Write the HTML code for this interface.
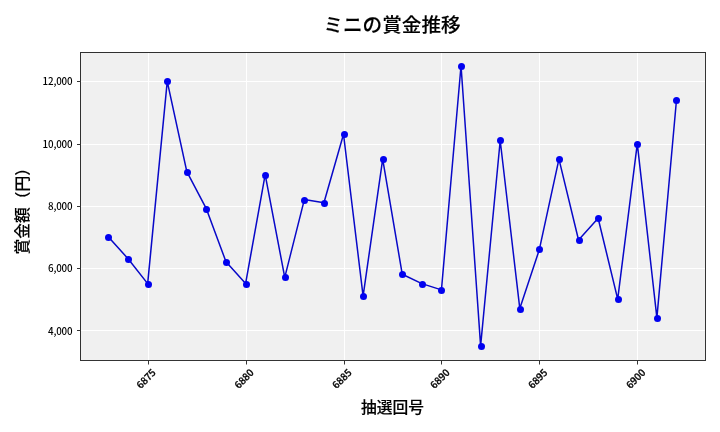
<!DOCTYPE html>
<html lang="ja"><head><meta charset="utf-8"><title>ミニの賞金推移</title>
<style>html,body{margin:0;padding:0;background:#fff;overflow:hidden;}svg{display:block;will-change:transform;}text{font-family:"Noto Sans CJK JP", "Liberation Sans", sans-serif;fill:#000;}</style></head><body>
<svg width="720" height="432" viewBox="0 0 720 432">
<rect x="0" y="0" width="720" height="432" fill="#ffffff"/>
<g opacity="0.999">
<rect x="80" y="52" width="625" height="308" fill="#f0f0f0"/>
<g stroke="#ffffff" stroke-opacity="1" stroke-width="1">
<line x1="148.5" y1="52.5" x2="148.5" y2="360.5"/>
<line x1="246.5" y1="52.5" x2="246.5" y2="360.5"/>
<line x1="344.5" y1="52.5" x2="344.5" y2="360.5"/>
<line x1="441.5" y1="52.5" x2="441.5" y2="360.5"/>
<line x1="539.5" y1="52.5" x2="539.5" y2="360.5"/>
<line x1="637.5" y1="52.5" x2="637.5" y2="360.5"/>
<line x1="80.5" y1="330.5" x2="705.5" y2="330.5"/>
<line x1="80.5" y1="268.5" x2="705.5" y2="268.5"/>
<line x1="80.5" y1="206.5" x2="705.5" y2="206.5"/>
<line x1="80.5" y1="144.5" x2="705.5" y2="144.5"/>
<line x1="80.5" y1="81.5" x2="705.5" y2="81.5"/>
</g>
<g stroke="#000" stroke-opacity="0.8" stroke-width="1">
<line x1="148.5" y1="361.0" x2="148.5" y2="364.5"/>
<line x1="246.5" y1="361.0" x2="246.5" y2="364.5"/>
<line x1="344.5" y1="361.0" x2="344.5" y2="364.5"/>
<line x1="441.5" y1="361.0" x2="441.5" y2="364.5"/>
<line x1="539.5" y1="361.0" x2="539.5" y2="364.5"/>
<line x1="637.5" y1="361.0" x2="637.5" y2="364.5"/>
<line x1="77.0" y1="330.5" x2="80.0" y2="330.5"/>
<line x1="77.0" y1="268.5" x2="80.0" y2="268.5"/>
<line x1="77.0" y1="206.5" x2="80.0" y2="206.5"/>
<line x1="77.0" y1="144.5" x2="80.0" y2="144.5"/>
<line x1="77.0" y1="81.5" x2="80.0" y2="81.5"/>
</g>
<polyline points="108.48,236.94 128.07,258.73 147.66,283.62 167.24,81.34 186.83,171.59 206.41,208.93 226.00,261.84 245.59,283.62 265.17,174.70 284.76,277.40 304.34,199.60 323.93,202.71 343.52,134.24 363.10,296.07 382.69,159.14 402.27,274.29 421.86,283.62 441.44,289.85 461.03,65.77 480.62,345.87 500.20,140.47 519.79,308.52 539.37,249.39 558.96,159.14 578.55,240.05 598.13,218.27 617.72,299.18 637.30,143.58 656.89,317.86 676.48,100.01" fill="none" stroke="#0808c8" stroke-width="1.5" stroke-linejoin="round" stroke-linecap="square"/>
<g fill="#0000f0">
<circle cx="108.5" cy="237.5" r="3.5"/>
<circle cx="128.5" cy="259.5" r="3.5"/>
<circle cx="148.5" cy="284.5" r="3.5"/>
<circle cx="167.5" cy="81.5" r="3.5"/>
<circle cx="187.5" cy="172.5" r="3.5"/>
<circle cx="206.5" cy="209.5" r="3.5"/>
<circle cx="226.5" cy="262.5" r="3.5"/>
<circle cx="246.5" cy="284.5" r="3.5"/>
<circle cx="265.5" cy="175.5" r="3.5"/>
<circle cx="285.5" cy="277.5" r="3.5"/>
<circle cx="304.5" cy="200.5" r="3.5"/>
<circle cx="324.5" cy="203.5" r="3.5"/>
<circle cx="344.5" cy="134.5" r="3.5"/>
<circle cx="363.5" cy="296.5" r="3.5"/>
<circle cx="383.5" cy="159.5" r="3.5"/>
<circle cx="402.5" cy="274.5" r="3.5"/>
<circle cx="422.5" cy="284.5" r="3.5"/>
<circle cx="441.5" cy="290.5" r="3.5"/>
<circle cx="461.5" cy="66.5" r="3.5"/>
<circle cx="481.5" cy="346.5" r="3.5"/>
<circle cx="500.5" cy="140.5" r="3.5"/>
<circle cx="520.5" cy="309.5" r="3.5"/>
<circle cx="539.5" cy="249.5" r="3.5"/>
<circle cx="559.5" cy="159.5" r="3.5"/>
<circle cx="579.5" cy="240.5" r="3.5"/>
<circle cx="598.5" cy="218.5" r="3.5"/>
<circle cx="618.5" cy="299.5" r="3.5"/>
<circle cx="637.5" cy="144.5" r="3.5"/>
<circle cx="657.5" cy="318.5" r="3.5"/>
<circle cx="676.5" cy="100.5" r="3.5"/>
</g>
<rect x="80.5" y="52.5" width="625.0" height="308.0" fill="none" stroke="#000" stroke-opacity="0.8" stroke-width="1"/>
<g font-size="9.8" font-weight="500" text-anchor="end" stroke="#000" stroke-width="0.0">
<text x="72.50" y="335" letter-spacing="-0.15">4,000</text>
<text x="72.50" y="272" letter-spacing="-0.15">6,000</text>
<text x="72.50" y="210" letter-spacing="-0.15">8,000</text>
<text x="72.50" y="148" letter-spacing="-0.15">10,000</text>
<text x="72.50" y="85" letter-spacing="-0.15">12,000</text>
</g>
<g font-size="9.8" font-weight="500" text-anchor="middle" stroke="#000" stroke-width="0.3">
<text transform="translate(148.66,381.27) rotate(-45)">6875</text>
<text transform="translate(246.59,381.27) rotate(-45)">6880</text>
<text transform="translate(344.52,381.27) rotate(-45)">6885</text>
<text transform="translate(442.44,381.27) rotate(-45)">6890</text>
<text transform="translate(540.37,381.27) rotate(-45)">6895</text>
<text transform="translate(638.30,381.27) rotate(-45)">6900</text>
</g>
<text x="392.0" y="32.4" font-size="19.6" font-weight="500" text-anchor="middle" stroke="#000" stroke-width="0.15">ミニの賞金推移</text>
<text x="392.5" y="412.5" font-size="15.75" font-weight="500" text-anchor="middle" stroke="#000" stroke-width="0.15">抽選回号</text>
<text transform="translate(27.5,207.22) rotate(-90)" font-size="15.75" font-weight="500" text-anchor="middle" stroke="#000" stroke-width="0.15">賞金額（円）</text>
</g>
</svg></body></html>
